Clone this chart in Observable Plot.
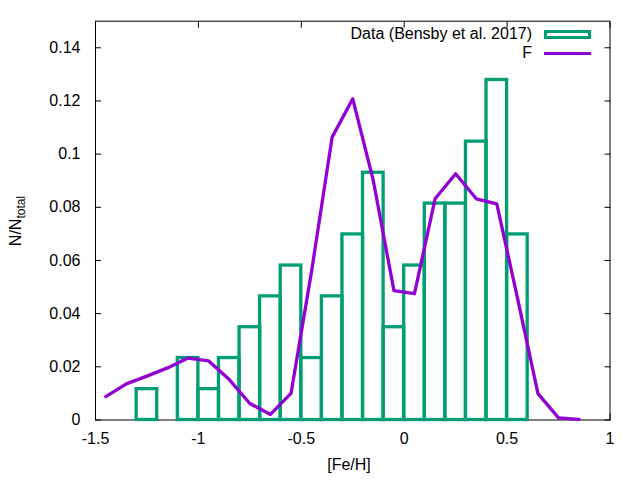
<!DOCTYPE html>
<html><head><meta charset="utf-8">
<script src="https://cdn.jsdelivr.net/npm/d3@7"></script>
<script src="https://cdn.jsdelivr.net/npm/@observablehq/plot@0.6"></script>
<style>
body{margin:0;background:#fff;}
#wrap{position:relative;width:640px;height:480px;font-family:"Liberation Sans",Arial,sans-serif;font-size:16px;color:#000;}
#wrap svg{position:absolute;left:0;top:0;}
.ov{position:absolute;white-space:nowrap;line-height:16px;}
</style></head><body><div id="wrap"></div>
<script>
// Histogram bins (Bensby et al. 2017), N/N_total
const binStart = [-1.3,-1.1,-1.0,-0.9,-0.8,-0.7,-0.6,-0.5,-0.4,-0.3,-0.2,-0.1,0.0,0.1,0.2,0.3,0.4,0.5];
const binEnd   = [-1.2,-1.0,-0.9,-0.8,-0.7,-0.6,-0.5,-0.4,-0.3,-0.2,-0.1,0.0,0.1,0.2,0.3,0.4,0.5,0.6];
const binFrac  = [0.0116,0.0233,0.0116,0.0233,0.0349,0.0465,0.0581,0.0233,0.0465,0.0698,0.0930,0.0349,0.0581,0.0814,0.0814,0.1047,0.1279,0.0698];
// Curve F
const fitX = [-1.45,-1.35,-1.25,-1.15,-1.05,-0.95,-0.85,-0.75,-0.65,-0.55,-0.45,-0.35,-0.25,-0.15,-0.05,0.05,0.15,0.25,0.35,0.45,0.55,0.65,0.75,0.85];
const fitY = [0.0088,0.0136,0.0165,0.0196,0.0233,0.0222,0.0152,0.0062,0.0021,0.0100,0.0560,0.1064,0.1208,0.0900,0.0487,0.0475,0.0832,0.0926,0.0832,0.0813,0.0460,0.0099,0.0008,0.0002];
// Ticks
const xTicks = [-1.5,-1,-0.5,0,0.5,1];
const xTickLabels = ["-1.5","-1","-0.5","0","0.5","1"];
const yTicks = [0,0.02,0.04,0.06,0.08,0.1,0.12,0.14];
const yTickLabels = ["0","0.02","0.04","0.06","0.08","0.1","0.12","0.14"];

const bars = binStart.map((s,i)=>({x1:s,x2:binEnd[i],y:binFrac[i]}));
const fit = fitX.map((x,i)=>({x,y:fitY[i]}));
const fmtX = d => xTickLabels[xTicks.indexOf(d)];
const fmtY = d => yTickLabels[yTicks.indexOf(d)];
const none = () => "";

const plot = Plot.plot({
  width:640, height:480,
  marginLeft:95, marginRight:30.5, marginTop:20.7, marginBottom:60.5,
  style:{fontFamily:'"Liberation Sans",Arial,sans-serif', fontSize:"16px", background:"transparent", color:"#000"},
  x:{domain:[-1.5,1]},
  y:{domain:[0,0.15]},
  marks:[
    Plot.frame({stroke:"#000", strokeWidth:1}),
    Plot.axisX(xTicks,{anchor:"bottom", tickSize:-6, tickFormat:none, label:null}),
    Plot.axisX(xTicks,{anchor:"top", tickSize:-6, tickFormat:none, label:null}),
    Plot.axisY(yTicks,{anchor:"left", tickSize:-6, tickFormat:none, label:null}),
    Plot.axisY(yTicks,{anchor:"right", tickSize:-6, tickFormat:none, label:null}),
    Plot.axisX(xTicks,{anchor:"bottom", tickSize:0, tickPadding:13, tickFormat:fmtX, label:null, fontSize:16}),
    Plot.axisY(yTicks,{anchor:"left", tickSize:0, tickPadding:15, tickFormat:fmtY, label:null, fontSize:16}),
    Plot.rectY(bars,{x1:"x1", x2:"x2", y:"y", fill:"none", stroke:"#009e73", strokeWidth:3.3}),
    Plot.line(fit,{x:"x", y:"y", stroke:"#9400d3", strokeWidth:3.3})
  ]
});
const wrap = document.getElementById("wrap");
wrap.appendChild(plot);
wrap.insertAdjacentHTML("beforeend", `
<div class="ov" style="right:108px;top:26px;">Data (Bensby et al. 2017)</div>
<div class="ov" style="left:544px;top:30px;width:47px;height:9px;box-sizing:border-box;border:3px solid #009e73;"></div>
<div class="ov" style="right:108px;top:45px;">F</div>
<div class="ov" style="left:544px;top:51.5px;width:47px;height:3.3px;background:#9400d3;"></div>
<div class="ov" style="left:349px;top:465px;transform:translate(-50%,-50%);">[Fe/H]</div>
<div class="ov" style="left:16px;top:221px;transform:translate(-50%,-50%) rotate(-90deg);">N/N<sub style="font-size:12px;line-height:0;">total</sub></div>
`);
</script></body></html>
